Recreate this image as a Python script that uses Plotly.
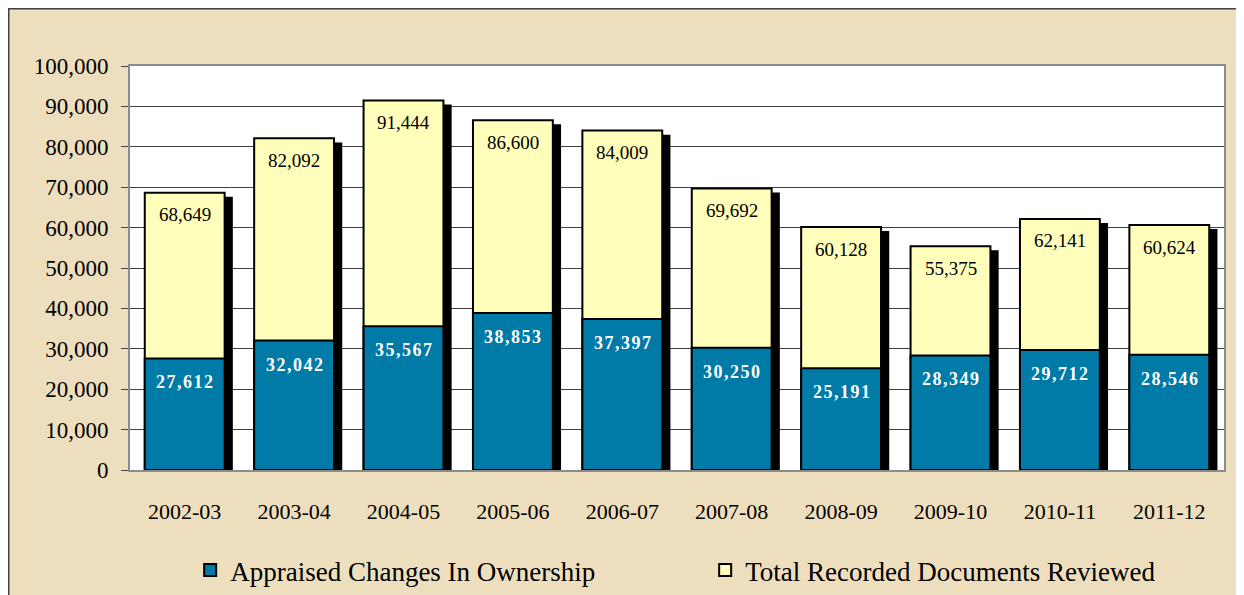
import plotly.graph_objects as go

years = ["2002-03", "2003-04", "2004-05", "2005-06", "2006-07",
         "2007-08", "2008-09", "2009-10", "2010-11", "2011-12"]
appraised = [27612, 32042, 35567, 38853, 37397, 30250, 25191, 28349, 29712, 28546]
total_docs = [68649, 82092, 91444, 86600, 84009, 69692, 60128, 55375, 62141, 60624]

blue = "#007AA6"
yellow = "#FFFFBB"
tan = "#EDDFBE"
serif = "Liberation Serif"

bar_w = 0.73

fig = go.Figure()

# drop shadow behind the bars
fig.add_trace(go.Bar(x=years, y=total_docs, base=-1000, width=bar_w,
                     offset=-bar_w / 2 + 0.075, marker_color="black",
                     marker_line_width=0, showlegend=False, hoverinfo="skip"))

fig.add_trace(go.Bar(x=years, y=total_docs, width=bar_w, name="Total Recorded Documents Reviewed",
                     marker=dict(color=yellow, line=dict(color="black", width=2)),
                     legendrank=2))
fig.add_trace(go.Bar(x=years, y=appraised, width=bar_w, name="Appraised Changes In Ownership",
                     marker=dict(color=blue, line=dict(color="black", width=2)),
                     legendrank=1))

for yr, v in zip(years, total_docs):
    fig.add_annotation(x=yr, y=v, text=f"{v:,}", showarrow=False, yshift=-22,
                       font=dict(family=serif, size=19, color="black"))
for yr, v in zip(years, appraised):
    spaced = "\u200a".join(f"{v:,}")
    fig.add_annotation(x=yr, y=v, text=spaced, showarrow=False, yshift=-24,
                       font=dict(family=serif, size=18, color="white", weight="bold"))

# outer frame: dark border line along the left and top edge
x_edge = -122 / 1094
y_edge = 1 + 58 / 529
fig.add_shape(type="line", xref="paper", yref="paper", x0=x_edge, x1=x_edge,
              y0=-0.2, y1=y_edge, line=dict(color="#404040", width=3))
fig.add_shape(type="line", xref="paper", yref="paper", x0=x_edge, x1=1.2,
              y0=y_edge, y1=y_edge, line=dict(color="#404040", width=3))

fig.update_layout(
    width=1236, height=587,
    barmode="overlay",
    paper_bgcolor=tan,
    plot_bgcolor="white",
    margin=dict(l=122, r=20, t=58, b=0),
    font=dict(family=serif, size=19, color="black"),
    legend=dict(orientation="h", x=0.055, xanchor="left", y=0.0, yanchor="bottom",
                font=dict(family=serif, size=27), bgcolor="rgba(0,0,0,0)",
                entrywidth=470, itemsizing="constant"),
    showlegend=True,
)
fig.update_xaxes(type="category", showline=True, linecolor="#8c8c8c", linewidth=2, mirror=True,
                 ticks="", ticklabelstandoff=21, tickfont=dict(size=22), automargin=False)
fig.update_yaxes(range=[0, 100000], dtick=10000, tickformat=",d", domain=[125 / 529, 1],
                 showgrid=True, gridcolor="#404040", gridwidth=1,
                 showline=True, linecolor="#8c8c8c", linewidth=2, mirror=True,
                 ticks="outside", ticklen=7, tickcolor="#404040",
                 ticklabelstandoff=8, tickfont=dict(size=23), zeroline=False, automargin=False)

fig.write_html("out.html")
